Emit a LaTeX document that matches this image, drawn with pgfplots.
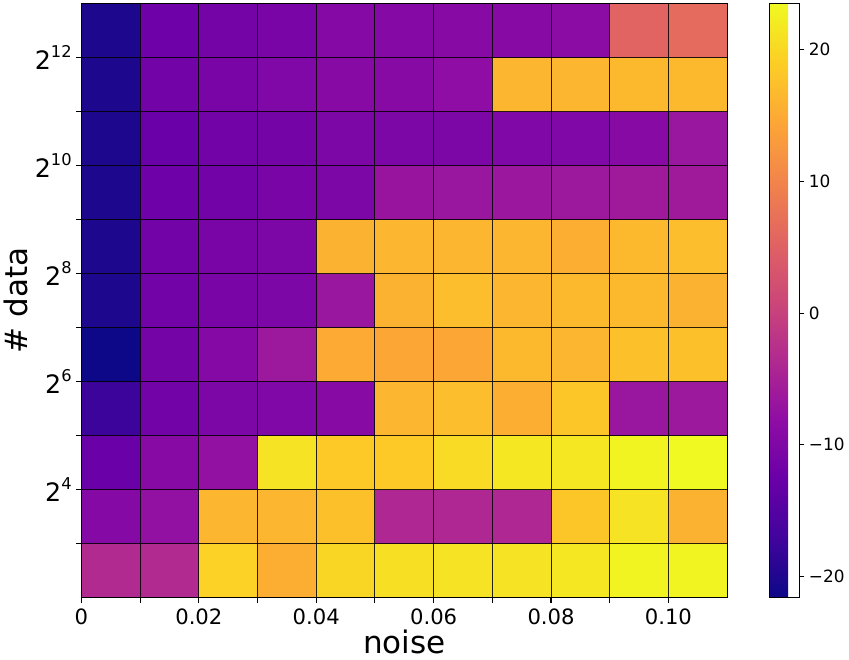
\documentclass[border=0pt]{standalone}
\usepackage{pgfplots}
\pgfplotsset{compat=1.18}
\usepackage{fontspec}
\setmainfont{DejaVu Sans}
\pgfplotsset{colormap={plasma}{rgb255=(13,8,135) rgb255=(65,4,157) rgb255=(106,0,168) rgb255=(143,13,164) rgb255=(177,42,144) rgb255=(204,71,120) rgb255=(225,100,98) rgb255=(242,132,75) rgb255=(252,166,54) rgb255=(252,206,37) rgb255=(240,249,33)}}
\newcommand{\pw}[1]{2\raisebox{9.5pt}{\fontsize{12.3}{12.3}\selectfont #1}}
\pgfplotstableread{
x y c
0.005 2.5 -3.6
0.015 2.5 -3.6
0.025 2.5 19.4
0.035 2.5 15.4
0.045 2.5 19.9
0.055 2.5 20.8
0.065 2.5 21.2
0.075 2.5 21.2
0.085 2.5 21.7
0.095 2.5 23.0
0.105 2.5 23.0
0.005 3.5 -9.4
0.015 3.5 -7.6
0.025 3.5 16.3
0.035 3.5 16.3
0.045 3.5 17.6
0.055 3.5 -4.0
0.065 3.5 -4.0
0.075 3.5 -4.0
0.085 3.5 18.1
0.095 3.5 21.2
0.105 3.5 15.8
0.005 4.5 -12.6
0.015 4.5 -9.0
0.025 4.5 -7.6
0.035 4.5 21.2
0.045 4.5 18.5
0.055 4.5 18.5
0.065 4.5 20.3
0.075 4.5 21.7
0.085 4.5 21.7
0.095 4.5 23.0
0.105 4.5 23.5
0.005 5.5 -17.5
0.015 5.5 -11.7
0.025 5.5 -10.3
0.035 5.5 -9.9
0.045 5.5 -9.0
0.055 5.5 16.3
0.065 5.5 17.2
0.075 5.5 15.4
0.085 5.5 18.1
0.095 5.5 -6.7
0.105 5.5 -6.3
0.005 6.5 -21.6
0.015 6.5 -11.2
0.025 6.5 -9.4
0.035 6.5 -6.3
0.045 6.5 15.0
0.055 6.5 14.5
0.065 6.5 14.5
0.075 6.5 16.7
0.085 6.5 16.3
0.095 6.5 17.6
0.105 6.5 17.6
0.005 7.5 -20.3
0.015 7.5 -11.7
0.025 7.5 -10.8
0.035 7.5 -10.3
0.045 7.5 -6.7
0.055 7.5 15.8
0.065 7.5 17.2
0.075 7.5 16.3
0.085 7.5 16.7
0.095 7.5 16.7
0.105 7.5 15.8
0.005 8.5 -20.3
0.015 8.5 -11.7
0.025 8.5 -10.8
0.035 8.5 -10.3
0.045 8.5 15.8
0.055 8.5 16.3
0.065 8.5 16.3
0.075 8.5 16.3
0.085 8.5 15.4
0.095 8.5 16.7
0.105 8.5 17.2
0.005 9.5 -20.3
0.015 9.5 -12.1
0.025 9.5 -11.7
0.035 9.5 -10.8
0.045 9.5 -10.3
0.055 9.5 -6.9
0.065 9.5 -6.7
0.075 9.5 -6.5
0.085 9.5 -6.3
0.095 9.5 -6.1
0.105 9.5 -6.1
0.005 10.5 -20.3
0.015 10.5 -12.6
0.025 10.5 -11.7
0.035 10.5 -11.2
0.045 10.5 -10.3
0.055 10.5 -10.3
0.065 10.5 -10.3
0.075 10.5 -9.9
0.085 10.5 -9.9
0.095 10.5 -9.0
0.105 10.5 -6.7
0.005 11.5 -20.3
0.015 11.5 -11.7
0.025 11.5 -10.8
0.035 11.5 -9.9
0.045 11.5 -9.0
0.055 11.5 -9.0
0.065 11.5 -8.1
0.075 11.5 16.3
0.085 11.5 16.3
0.095 11.5 16.7
0.105 11.5 16.7
0.005 12.5 -20.3
0.015 12.5 -12.1
0.025 12.5 -11.2
0.035 12.5 -10.8
0.045 12.5 -9.4
0.055 12.5 -9.4
0.065 12.5 -9.0
0.075 12.5 -9.0
0.085 12.5 -8.5
0.095 12.5 5.5
0.105 12.5 6.4
}\heatdata
\begin{document}
\begin{tikzpicture}
\begin{axis}[
  scale only axis, width=489pt, height=450pt,
  xmin=0, xmax=0.11, ymin=2, ymax=13,
  colormap name=plasma,
  point meta min=-21.6, point meta max=23.5,
  axis on top,
  axis line style={black, line width=0.8pt},
  xtick={0,0.02,0.04,0.06,0.08,0.1},
  xticklabels={0,0.02,0.04,0.06,0.08,0.10},
  minor xtick={0.01,0.03,0.05,0.07,0.09},
  ytick={4,6,8,10,12},
  yticklabels={\pw{4},\pw{6},\pw{8},\pw{10},\pw{12}},
  minor ytick={3,5,7,9,11},
  xtick pos=left, ytick pos=left,
  grid=both,
  major grid style={black, line width=0.7pt, opacity=0.85},
  minor grid style={black, line width=0.7pt, opacity=0.85},
  tick align=outside,
  major tick length=3.9pt, minor tick length=3.9pt,
  tick style={black, line width=0.8pt},
  x tick label style={font=\fontsize{16}{16}\selectfont, yshift=-1pt},
  y tick label style={font=\fontsize{19.2}{19.2}\selectfont},
  xlabel={noise}, ylabel={\# data},
  label style={font=\fontsize{23.5}{23.5}\selectfont},
  xlabel style={yshift=3pt},
  ylabel style={yshift=-2pt},
  colorbar,
  colorbar style={
    at={(parent axis.north east)}, anchor=north west, xshift=23.5pt,
    width=22.5pt,
    ytick={-20,-10,0,10,20},
    yticklabels={−20,−10,0,10,20},
    ytick pos=right,
    y tick label style={font=\fontsize{12.8}{12.8}\selectfont},
    tick align=outside, major tick length=3.9pt,
    tick style={black, line width=0.8pt},
    axis line style={black, line width=0.8pt},
  },
]
\addplot[matrix plot*, mesh/cols=11, point meta=explicit] table[x=x, y=y, meta=c] {\heatdata};
\end{axis}
\path ([yshift=2.25pt]current bounding box.north) -- ([yshift=-1pt]current bounding box.south);
\end{tikzpicture}
\end{document}
